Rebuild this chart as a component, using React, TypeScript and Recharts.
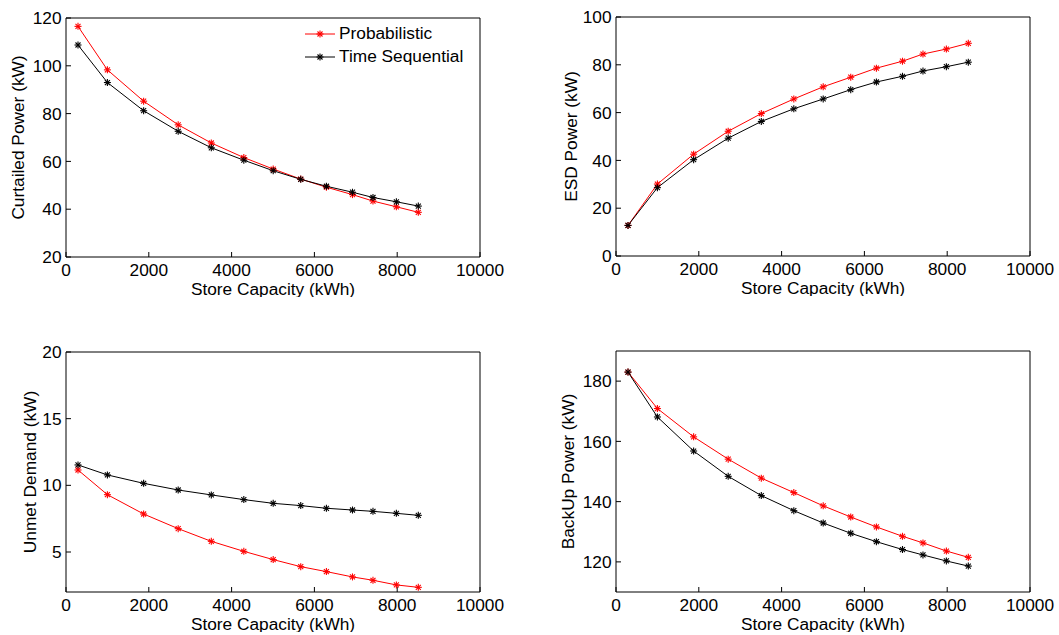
import { LineChart, Line, XAxis, YAxis, Legend, Label } from 'recharts';

const FONT = '"Liberation Sans", Arial, Helvetica, sans-serif';
const FS = 17.3;

// store capacity (kWh), shared by all four panels
const storeCapacity = [290, 1000, 1875, 2710, 3510, 4295, 5005, 5670, 6290, 6920, 7415, 7980, 8510];
const xTicks = [0, 2000, 4000, 6000, 8000, 10000];

const curtailedProb = [116.5, 98.3, 85.2, 75.3, 67.7, 61.6, 56.8, 52.6, 49.2, 46.1, 43.4, 41.0, 38.7];
const curtailedSeq = [108.7, 93.0, 81.2, 72.6, 65.7, 60.5, 56.1, 52.5, 49.6, 47.1, 44.9, 43.1, 41.3];

const esdProb = [12.8, 30.1, 42.6, 52.2, 59.6, 65.7, 70.8, 74.8, 78.6, 81.5, 84.5, 86.6, 89.0];
const esdSeq = [12.8, 28.6, 40.3, 49.3, 56.3, 61.6, 65.7, 69.6, 72.8, 75.2, 77.4, 79.2, 81.1];

const unmetProb = [11.15, 9.3, 7.85, 6.75, 5.8, 5.05, 4.43, 3.9, 3.53, 3.13, 2.88, 2.53, 2.35];
const unmetSeq = [11.53, 10.78, 10.15, 9.65, 9.28, 8.93, 8.65, 8.48, 8.28, 8.15, 8.05, 7.9, 7.75];

const backupProb = [183, 170.9, 161.5, 154.1, 147.8, 143.0, 138.6, 134.9, 131.6, 128.5, 126.3, 123.6, 121.5];
const backupSeq = [183, 168.1, 156.8, 148.4, 142.0, 137.0, 132.9, 129.5, 126.7, 124.1, 122.3, 120.3, 118.6];

const SERIES = [
  { key: 'prob', name: 'Probabilistic', color: '#ff0000' },
  { key: 'seq', name: 'Time Sequential', color: '#000000' },
];

type Pt = { cap: number; prob: number; seq: number };
const build = (p: number[], s: number[]): Pt[] => storeCapacity.map((cap, i) => ({ cap, prob: p[i], seq: s[i] }));

// matlab-style '*' marker
function Star(props: any) {
  const { cx, cy, stroke } = props;
  if (cx == null || cy == null) return null;
  const r = 3.5;
  const d = 2.5;
  return (
    <g stroke={stroke} strokeWidth={1.1}>
      <line x1={cx - r} y1={cy} x2={cx + r} y2={cy} />
      <line x1={cx} y1={cy - r} x2={cx} y2={cy + r} />
      <line x1={cx - d} y1={cy - d} x2={cx + d} y2={cy + d} />
      <line x1={cx - d} y1={cy + d} x2={cx + d} y2={cy - d} />
    </g>
  );
}

const tickStyle = { fill: '#000', fontSize: FS, fontFamily: FONT };

const xLabel = (props: any) => {
  const vb = props.viewBox;
  return (
    <text x={vb.x + vb.width / 2} y={vb.y + 37.5} textAnchor="middle" fontSize={FS} fontFamily={FONT} fill="#000">
      Store Capacity (kWh)
    </text>
  );
};

const makeYLabel = (text: string, gap: number) => (props: any) => {
  const vb = props.viewBox;
  const cx = vb.x + vb.width - gap;
  const cy = vb.y + vb.height / 2;
  return (
    <text x={cx} y={cy} transform={`rotate(-90 ${cx} ${cy})`} textAnchor="middle" dominantBaseline="central" fontSize={FS} fontFamily={FONT} fill="#000">
      {text}
    </text>
  );
};

const renderLegend = () => (
  <div style={{ fontFamily: FONT, fontSize: FS, color: '#000' }}>
    {SERIES.map((s) => (
      <div key={s.key} style={{ display: 'flex', alignItems: 'center', height: 22.7 }}>
        <svg width={34} height={12} style={{ display: 'block' }}>
          <line x1={0} y1={6} x2={30} y2={6} stroke={s.color} strokeWidth={1} />
          <Star cx={15} cy={6} stroke={s.color} />
        </svg>
        <span style={{ whiteSpace: 'nowrap' }}>{s.name}</span>
      </div>
    ))}
  </div>
);

type PanelProps = {
  left: number;
  top: number;
  height: number;
  marginTop: number;
  data: Pt[];
  yDomain: [number, number];
  yTicks: number[];
  yLabel: string;
  labelGap: number;
  legend?: boolean;
};

function Panel({ left, top, height, marginTop, data, yDomain, yTicks, yLabel, labelGap, legend }: PanelProps) {
  return (
    <div style={{ position: 'absolute', left, top }}>
      <LineChart width={525} height={height} data={data} margin={{ top: marginTop, right: 44, bottom: 0, left: 0 }}>
        <XAxis
          dataKey="cap"
          type="number"
          domain={[0, 10000]}
          ticks={xTicks}
          interval={0}
          height={40}
          tickSize={-5}
          tickMargin={12}
          stroke="#000"
          tick={tickStyle}
          allowDataOverflow
        >
          <Label content={xLabel} />
        </XAxis>
        <XAxis xAxisId="top" orientation="top" type="number" domain={[0, 10000]} ticks={xTicks} interval={0} height={1} tickSize={-5} tick={false} stroke="#000" allowDataOverflow />
        <YAxis
          type="number"
          domain={yDomain}
          ticks={yTicks}
          interval={0}
          width={66}
          tickSize={-5}
          tickMargin={9.5}
          stroke="#000"
          tick={tickStyle}
          allowDataOverflow
        >
          <Label content={makeYLabel(yLabel, labelGap)} />
        </YAxis>
        <YAxis yAxisId="right" orientation="right" type="number" domain={yDomain} ticks={yTicks} interval={0} width={1} tickSize={-5} tick={false} stroke="#000" allowDataOverflow />
        {legend && (
          <Legend
            layout="horizontal"
            verticalAlign="middle"
            align="center"
            content={renderLegend}
            wrapperStyle={{ left: 305, top: 22.5, width: 'auto' }}
          />
        )}
        {SERIES.map((s) => (
          <Line
            key={s.key}
            type="linear"
            dataKey={s.key}
            name={s.name}
            stroke={s.color}
            strokeWidth={1}
            dot={<Star />}
            activeDot={false}
            isAnimationActive={false}
          />
        ))}
      </LineChart>
    </div>
  );
}

export default function App() {
  return (
    <div style={{ position: 'absolute', left: 0, top: 0, width: 1059, height: 635, background: '#fff', overflow: 'hidden' }}>
      <Panel left={0} top={0} height={297} marginTop={17} data={build(curtailedProb, curtailedSeq)} yDomain={[20, 120]} yTicks={[20, 40, 60, 80, 100, 120]} yLabel="Curtailed Power (kW)" labelGap={48} legend />
      <Panel left={550} top={0} height={296} marginTop={16} data={build(esdProb, esdSeq)} yDomain={[0, 100]} yTicks={[0, 20, 40, 60, 80, 100]} yLabel="ESD Power (kW)" labelGap={45} />
      <Panel left={0} top={330} height={302} marginTop={21} data={build(unmetProb, unmetSeq)} yDomain={[2, 20]} yTicks={[5, 10, 15, 20]} yLabel="Unmet Demand (kW)" labelGap={36} />
      <Panel left={550} top={330} height={302} marginTop={20} data={build(backupProb, backupSeq)} yDomain={[110, 190]} yTicks={[120, 140, 160, 180]} yLabel="BackUp Power (kW)" labelGap={48} />
    </div>
  );
}
